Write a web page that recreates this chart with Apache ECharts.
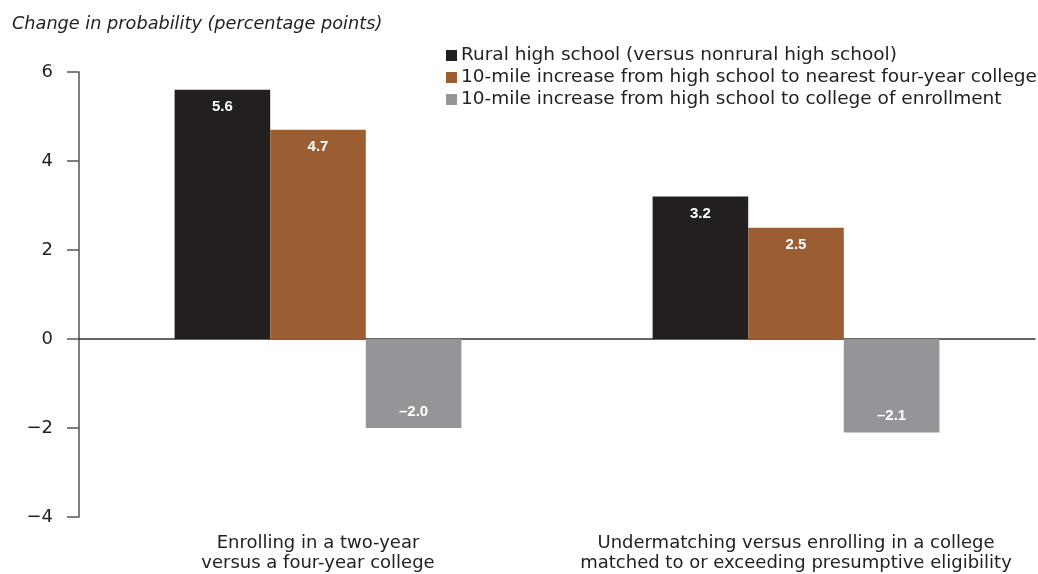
<!DOCTYPE html>
<html><head><meta charset="utf-8">
<script src="https://cdn.jsdelivr.net/npm/echarts@6/dist/echarts.min.js"></script>
<style>html,body{margin:0;padding:0;background:#fff}#c{width:1038px;height:574px}</style>
</head><body><div id="c"></div>
<script>
const categories = ['Enrolling in a two-year\nversus a four-year college', 'Undermatching versus enrolling in a college\nmatched to or exceeding presumptive eligibility'];
const seriesNames = ['Rural high school (versus nonrural high school)', '10-mile increase from high school to nearest four-year college', '10-mile increase from high school to college of enrollment'];
const rural = [5.6, 3.2];
const nearest = [4.7, 2.5];
const enrolled = [-2.0, -2.1];
const yTicks = [-4, -2, 0, 2, 4, 6];
const colors = ['#231f20', '#9a5e32', '#939598'];

const font = '"DejaVu Sans", sans-serif';
const fmtNum = v => String(v).replace('-', '\u2013');
function lbl(pos, dist) {
  return { show: true, position: pos, distance: dist, color: '#fff', fontWeight: 'bold', fontSize: 15, fontFamily: '"Liberation Sans", Arial, sans-serif',
    formatter: p => fmtNum(p.value.toFixed(1)) };
}
const chart = echarts.init(document.getElementById('c'));
chart.setOption({
  animation: false,
  textStyle: { fontFamily: font },
  title: { text: 'Change in probability (percentage points)', left: 7, top: 10,
    textStyle: { fontStyle: 'italic', fontWeight: 'normal', fontSize: 17.7, color: '#222', fontFamily: font } },
  legend: { orient: 'vertical', left: 441, top: 41, itemWidth: 11, itemHeight: 11, itemGap: 3, icon: 'rect',
    textStyle: { fontSize: 18.5, color: '#222', lineHeight: 18, fontFamily: font, padding: [0, 0, 0, -1] },
    data: seriesNames },
  grid: { left: 79, right: 3, top: 72, bottom: 57 },
  xAxis: [
    { type: 'category', data: categories, axisLine: { onZero: true, lineStyle: { color: '#333', width: 1.5 } },
      axisTick: { show: false }, axisLabel: { show: false } },
    { type: 'category', data: categories, position: 'bottom', axisLine: { show: false, onZero: false },
      axisTick: { show: false },
      axisLabel: { interval: 0, margin: 16, fontSize: 18, color: '#222', lineHeight: 20, fontFamily: font } }
  ],
  yAxis: { type: 'value', min: -4, max: 6, interval: 2,
    axisLine: { show: true, lineStyle: { color: '#555', width: 1.5 } },
    axisTick: { show: true, length: 12, lineStyle: { color: '#555', width: 1.5 } },
    splitLine: { show: false },
    axisLabel: { margin: 26, fontSize: 18, color: '#222', fontFamily: font,
      formatter: v => yTicks.includes(v) ? String(v).replace('-', '\u2212') : '' } },
  series: [
    { name: seriesNames[0], type: 'bar', data: rural, itemStyle: { color: colors[0] }, barGap: 0, barCategoryGap: '40%', label: lbl('insideTop', 10) },
    { name: seriesNames[1], type: 'bar', data: nearest, itemStyle: { color: colors[1] }, barGap: 0, barCategoryGap: '40%', label: lbl('insideTop', 10) },
    { name: seriesNames[2], type: 'bar', data: enrolled, itemStyle: { color: colors[2] }, barGap: 0, barCategoryGap: '40%', label: lbl('insideBottom', 9) }
  ]
});
</script></body></html>
